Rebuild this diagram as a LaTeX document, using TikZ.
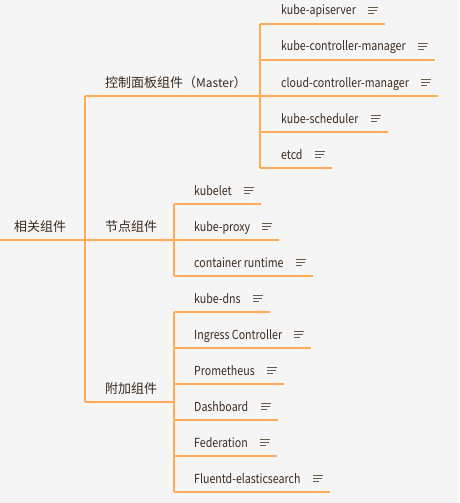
\documentclass[tikz,border=0pt]{standalone}
\usepackage{fontspec}
\setmainfont{Noto Sans CJK SC}
\newfontfamily\leaffont[FakeStretch=0.85]{Noto Sans CJK SC}
\usetikzlibrary{calc}
\definecolor{linecol}{RGB}{255,170,85}
\definecolor{txtcol}{RGB}{58,42,30}
\definecolor{notecol}{RGB}{105,90,75}
\definecolor{bgcol}{RGB}{245,245,245}

\begin{document}
\begin{tikzpicture}[x=1pt, y=-1pt,
    edge/.style={draw=linecol, line width=1.4pt},
    topic/.style={anchor=base west, inner sep=0pt, text=txtcol, font=\fontsize{13}{15}\selectfont},
    leaf/.style={anchor=base west, inner sep=0pt, text=txtcol, font=\leaffont\fontsize{12.5}{14}\selectfont},
    note/.pic={\draw[notecol, line width=0.8pt] (12,-8) -- (22,-8) (12,-5) -- (21,-5) (12,-2) -- (18,-2);
               \coordinate (-end) at (29,9);}]
    \fill[bgcol] (0,0) rectangle (459,503);
    \useasboundingbox (0,0) rectangle (459,503);

    % root and branches
    \node[topic] (root) at (14,231) {相关组件};
    \node[topic] (master) at (105,87) {控制面板组件（{\fontsize{12}{14}\selectfont Master}）};
    \node[topic] (nodes) at (105,231) {节点组件};
    \node[topic] (addon) at (105,393) {附加组件};

    % master leaves
    \node[leaf] (apiserver) at (281,15) {kube-apiserver};
    \node[leaf] (kcm) at (281,51) {kube-controller-manager};
    \node[leaf] (ccm) at (281,87) {cloud-controller-manager};
    \node[leaf] (scheduler) at (281,123) {kube-scheduler};
    \node[leaf] (etcd) at (281,159) {etcd};

    % node leaves
    \node[leaf] (kubelet) at (194,195) {kubelet};
    \node[leaf] (kubeproxy) at (194,231) {kube-proxy};
    \node[leaf] (runtime) at (194,267) {container runtime};

    % addon leaves
    \node[leaf] (kubedns) at (194,303) {kube-dns};
    \node[leaf] (ingress) at (194,339) {Ingress Controller};
    \node[leaf] (prometheus) at (194,375) {Prometheus};
    \node[leaf] (dashboard) at (194,411) {Dashboard};
    \node[leaf] (federation) at (194,447) {Federation};
    \node[leaf] (fluentd) at (194,483) {Fluentd-elasticsearch};

    % note icons
    \foreach \n in {apiserver,kcm,ccm,scheduler,etcd,kubelet,kubeproxy,runtime,
                    kubedns,ingress,prometheus,dashboard,federation,fluentd}
        \pic (\n) at (\n.base east) {note};

    % underline starts
    \coordinate (root-s) at ($(root.base west)+(-14,9)$);
    \foreach \n in {master,nodes,addon}
        \coordinate (\n-s) at ($(\n.base west)+(-20,9)$);
    \foreach \n in {apiserver,kcm,ccm,scheduler,etcd}
        \coordinate (\n-s) at ($(\n.base west)+(-21,9)$);
    \foreach \n in {kubelet,kubeproxy,runtime,kubedns,ingress,prometheus,dashboard,federation,fluentd}
        \coordinate (\n-s) at ($(\n.base west)+(-20,9)$);

    % connectors
    \draw[edge] (root-s) -- (nodes-s);
    \draw[edge] (master-s) -- (addon-s);
    \draw[edge] (master-s) -- (ccm-s);
    \draw[edge] (nodes-s) -- (kubeproxy-s);
    \draw[edge] (addon-s) -- (addon-s -| prometheus-s);
    \draw[edge] (apiserver-s) -- (etcd-s);
    \draw[edge] (kubelet-s) -- (runtime-s);
    \draw[edge] (kubedns-s) -- (fluentd-s);
    \foreach \n in {apiserver,kcm,ccm,scheduler,etcd,kubelet,kubeproxy,runtime,
                    kubedns,ingress,prometheus,dashboard,federation,fluentd}
        \draw[edge] (\n-s) -- (\n-end);
\end{tikzpicture}
\end{document}
